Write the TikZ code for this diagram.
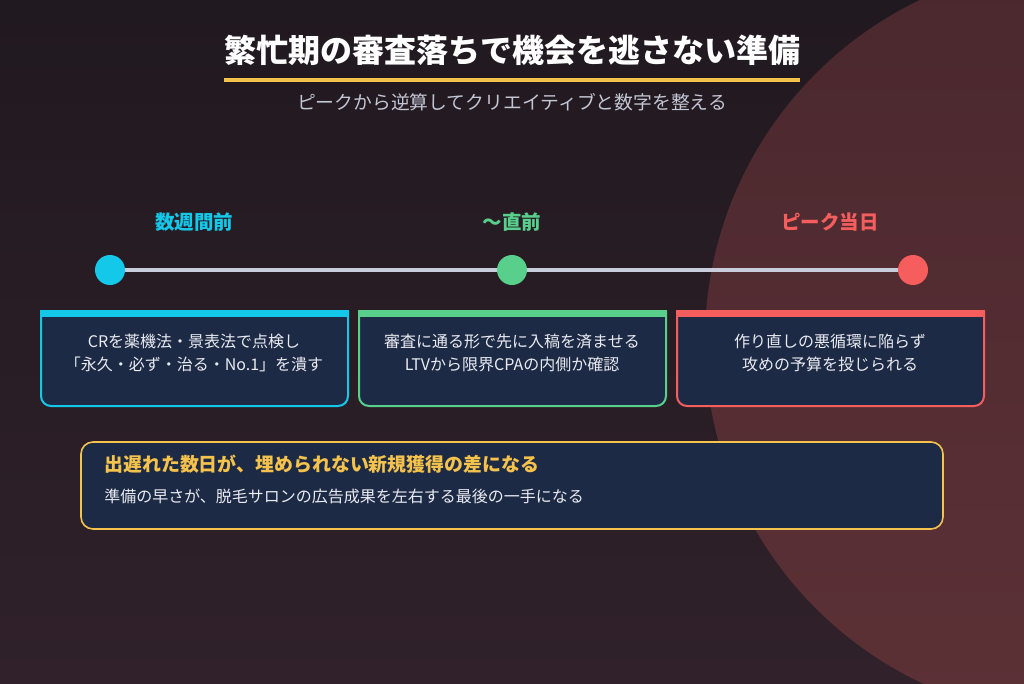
\documentclass[tikz,border=0pt]{standalone}
\usepackage{fontspec}
\setmainfont{Noto Sans CJK JP}
\definecolor{bgtop}{HTML}{211920}
\definecolor{bgbot}{HTML}{30212A}
\definecolor{circtop}{HTML}{4A282E}
\definecolor{circbot}{HTML}{5C3136}
\definecolor{cardfill}{HTML}{1D2A45}
\definecolor{ccyan}{HTML}{14C8EA}
\definecolor{cgreen}{HTML}{58D08B}
\definecolor{cred}{HTML}{F65D5D}
\definecolor{cyellow}{HTML}{F5C24C}
\definecolor{linegray}{HTML}{C9CCDA}
\definecolor{subgray}{HTML}{C3C6D4}
\definecolor{cardtxt}{HTML}{E9EBF2}
\tikzset{
  x=0.75pt, y=0.75pt,
  cardtext/.style={align=center, text=cardtxt, inner sep=0pt, font=\fontsize{12pt}{17.25pt}\selectfont},
  tlabel/.style={inner sep=0pt, font=\bfseries\fontsize{14.6pt}{17pt}\selectfont},
  dotnode/.style={circle, inner sep=0pt, minimum size=22.5pt},
  cardframe/.style={fill=cardfill, line width=1.5pt},
}
\newcommand{\cardshape}[3]{% x1 x2 color
  \draw[cardframe, draw=#3] (#1,-312) -- (#1,-396) arc[start angle=180,end angle=270,radius=10] -- (#2-10,-406) arc[start angle=270,end angle=360,radius=10] -- (#2,-312) -- cycle;
  \fill[#3] (#1-1,-310) rectangle (#2+1,-317);
}
\begin{document}
\begin{tikzpicture}
\useasboundingbox (0,0) rectangle (1024,-683);
\shade[top color=bgtop, bottom color=bgbot] (0,0) rectangle (1024,-683);
\begin{scope}
  \clip (0,0) rectangle (1024,-683);
  \shade[top color=circtop, bottom color=circbot] (1083,-341) circle (378);
\end{scope}

% title
\node[inner sep=0pt, text=white, font=\bfseries\fontsize{24pt}{28pt}\selectfont] (title) at (512,-50) {繁忙期の審査落ちで機会を逃さない準備};
\fill[cyellow] (224,-78) rectangle (800,-81.5);
\node[inner sep=0pt, text=subgray, font=\fontsize{14.1pt}{17pt}\selectfont] (sub) at (512,-102) {ピークから逆算してクリエイティブと数字を整える};

% timeline labels
\node[tlabel, text=ccyan] (l1) at (194,-222) {数週間前};
\node[tlabel, text=cgreen] (l2) at (512,-222) {〜直前};
\node[tlabel, text=cred] (l3) at (830,-222) {ピーク当日};

% dots and line
\node[dotnode, fill=ccyan] (d1) at (110,-270) {};
\node[dotnode, fill=cgreen] (d2) at (512,-270) {};
\node[dotnode, fill=cred] (d3) at (913,-270) {};
\draw[linegray, line width=3pt] (d1) -- (d2);
\draw[linegray, line width=3pt] (d2) -- (d3);

% cards
\cardshape{41}{348}{ccyan}
\cardshape{359}{666}{cgreen}
\cardshape{677}{984}{cred}
\node[cardtext] (t1) at (194,-352.5) {CRを薬機法・景表法で点検し\\「永久・必ず・治る・No.1」を潰す};
\node[cardtext] (t2) at (512,-352.5) {審査に通る形で先に入稿を済ませる\\LTVから限界CPAの内側か確認};
\node[cardtext] (t3) at (830,-352.5) {作り直しの悪循環に陥らず\\攻めの予算を投じられる};

% bottom box
\draw[fill=cardfill, draw=cyellow, line width=1.2pt, rounded corners=9pt] (81,-442) rectangle (943,-529);
\node[anchor=west, inner sep=0pt, text=cyellow, font=\bfseries\fontsize{14.2pt}{17pt}\selectfont] (h) at (104,-464) {出遅れた数日が、埋められない新規獲得の差になる};
\node[anchor=west, inner sep=0pt, text=cardtxt, font=\fontsize{12pt}{15pt}\selectfont] (b) at (104,-496) {準備の早さが、脱毛サロンの広告成果を左右する最後の一手になる};
\end{tikzpicture}
\end{document}
